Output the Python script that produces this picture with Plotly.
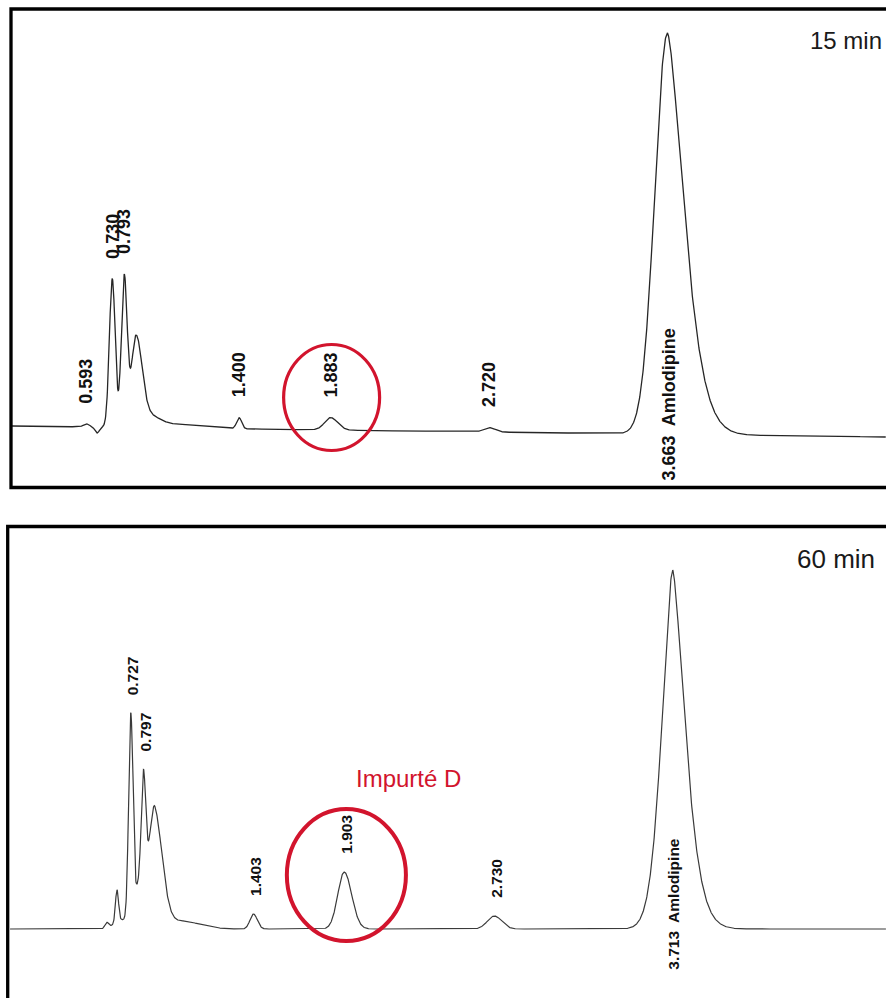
import numpy as np
import plotly.graph_objects as go

W, H = 886, 998

# ---------------- Data ----------------
# Top chromatogram (15 min): peak retention time (min), height (signal units), widths (min), shape exponents
top_rt     = [0.593, 0.650, 0.730, 0.793, 0.855, 0.930, 1.050, 1.400, 1.883, 2.720, 3.663]
top_height = [3.0,   -6.0,  148.0, 149.0, 88.0,  9.0,   4.0,   11.0,  12.5,  4.5,   401.0]
top_wl     = [0.022, 0.016, 0.0217, 0.0217, 0.034, 0.070, 0.200, 0.0187, 0.045, 0.040, 0.095]
top_wr     = [0.022, 0.016, 0.0217, 0.0217, 0.045, 0.070, 0.200, 0.0187, 0.052, 0.045, 0.126]
top_pl     = [2, 2, 2, 2, 2, 2, 2, 2, 2, 2, 2.0]
top_pr     = [2, 2, 2, 2, 2, 2, 2, 2, 2, 2, 1.55]
top_base   = [4.0, -7.0]          # baseline drift (start, end)

top_label_rt   = [0.593, 0.730, 0.793, 1.400, 1.883, 2.720]
top_label_text = ["0.593", "0.730", "0.793", "1.400", "1.883", "2.720"]
top_main_rt, top_main_text = 3.663, "3.663  Amlodipine"

# Bottom chromatogram (60 min)
bot_rt     = [0.596, 0.651, 0.660, 0.727, 0.797, 0.800, 0.861, 1.000, 1.403, 1.903, 2.730, 3.713]
bot_height = [6.0,   31.0,  8.0,   197.0, 100.0, 55.0,  93.0,  8.0,   15.0,  57.0,  13.0,  359.0]
bot_wl     = [0.0156, 0.0117, 0.040, 0.0165, 0.0165, 0.070, 0.035, 0.150, 0.027, 0.050, 0.054, 0.085]
bot_wr     = [0.0156, 0.0117, 0.040, 0.0165, 0.0165, 0.070, 0.0595, 0.150, 0.030, 0.058, 0.058, 0.100]
bot_pl     = [2, 2, 2, 2, 2, 2, 2, 2, 2, 2, 2, 1.7]
bot_pr     = [2, 2, 2, 2, 2, 2, 2, 2, 2, 2, 2, 1.5]
bot_base   = [0.0, 0.0]

bot_label_rt   = [0.727, 0.797, 1.403, 1.903, 2.730]
bot_label_text = ["0.727", "0.797", "1.403", "1.903", "2.730"]
bot_main_rt, bot_main_text = 3.713, "3.713  Amlodipine"

top_title = "15 min"
bot_title = "60 min"
impurity_text = "Impurté D"

# ---------------- Build traces from the peak table ----------------
def chromatogram(t, rt, h, wl, wr, pl, pr, base):
    y = base[0] + (base[1] - base[0]) * (t - t[0]) / (t[-1] - t[0])
    for r, a, l, rr, p1, p2 in zip(rt, h, wl, wr, pl, pr):
        d = t - r
        left = np.exp(-np.abs(d / l) ** p1)
        right = np.exp(-np.abs(d / rr) ** p2)
        y = y + a * np.where(d < 0, left, right)
    return y

top_xrange = [0.1368, 4.817]
bot_xrange = [0.0066, 4.888]
yrange = [-69, 430]

t_top = np.arange(0.200, 4.817, 0.0015)
t_bot = np.arange(0.062, 4.888, 0.0015)
y_top = chromatogram(t_top, top_rt, top_height, top_wl, top_wr, top_pl, top_pr, top_base)
y_bot = chromatogram(t_bot, bot_rt, bot_height, bot_wl, bot_wr, bot_pl, bot_pr, bot_base)

fig = go.Figure()
fig.add_trace(go.Scatter(x=t_top, y=y_top, mode="lines", xaxis="x", yaxis="y",
                         line=dict(color="#262626", width=1.3), hoverinfo="skip", showlegend=False))
fig.add_trace(go.Scatter(x=t_bot, y=y_bot, mode="lines", xaxis="x2", yaxis="y2",
                         line=dict(color="#3a3a3a", width=1.2), hoverinfo="skip", showlegend=False))

lab_font_top = dict(family="Liberation Sans, Arial, sans-serif", size=18, color="#111", weight="bold")
lab_font_bot = dict(family="Liberation Sans, Arial, sans-serif", size=15.5, color="#111", weight="bold")

ann = []
for r, txt in zip(top_label_rt, top_label_text):
    yv = float(np.interp(r, t_top, y_top))
    ann.append(dict(x=r, y=yv, xref="x", yref="y", text=txt, textangle=-90, showarrow=False,
                    xanchor="center", yanchor="bottom", yshift=18, font=lab_font_top))
ann.append(dict(x=top_main_rt, y=-53, xref="x", yref="y", text=top_main_text, textangle=-90,
                showarrow=False, xanchor="center", yanchor="bottom", xshift=1, font=lab_font_top))

for r, txt in zip(bot_label_rt, bot_label_text):
    yv = float(np.interp(r, t_bot, y_bot))
    ann.append(dict(x=r, y=yv, xref="x2", yref="y2", text=txt, textangle=-90, showarrow=False,
                    xanchor="center", yanchor="bottom", yshift=16, xshift=2, font=lab_font_bot))
ann.append(dict(x=bot_main_rt, y=-43, xref="x2", yref="y2", text=bot_main_text, textangle=-90,
                showarrow=False, xanchor="center", yanchor="bottom", font=lab_font_bot))

ann.append(dict(x=884 / W, y=1 - 41 / H, xref="paper", yref="paper", text=top_title, showarrow=False,
                xanchor="right", yanchor="middle",
                font=dict(family="Liberation Sans, Arial, sans-serif", size=24, color="#1a1a1a")))
ann.append(dict(x=877 / W, y=1 - 559 / H, xref="paper", yref="paper", text=bot_title, showarrow=False,
                xanchor="right", yanchor="middle",
                font=dict(family="Liberation Sans, Arial, sans-serif", size=26, color="#1a1a1a")))
ann.append(dict(x=2.255, y=151, xref="x2", yref="y2", text=impurity_text, showarrow=False,
                xanchor="center", yanchor="middle",
                font=dict(family="Liberation Sans, Arial, sans-serif", size=24, color="#d2142d")))

red = "#d2142d"
shapes = [
    # panel frames
    dict(type="rect", xref="paper", yref="paper", x0=11 / W, x1=1.05, y0=1 - 487.5 / H, y1=1 - 9 / H,
         line=dict(color="black", width=3.3), fillcolor="rgba(0,0,0,0)", layer="above"),
    dict(type="rect", xref="paper", yref="paper", x0=7.7 / W, x1=1.05, y0=-0.05, y1=1 - 526.5 / H,
         line=dict(color="black", width=3.3), fillcolor="rgba(0,0,0,0)", layer="above"),
    # red ellipses around impurity peak
    dict(type="circle", xref="x", yref="y", x0=1.883 - 0.248, x1=1.883 + 0.259, y0=-20.5, y1=85.5,
         line=dict(color=red, width=3.2)),
    dict(type="circle", xref="x2", yref="y2", x0=1.903 - 0.316, x1=1.903 + 0.340, y0=-12, y1=120,
         line=dict(color=red, width=4)),
]

axis_off = dict(visible=False, showgrid=False, zeroline=False, fixedrange=True)
fig.update_layout(
    width=W, height=H, autosize=False,
    margin=dict(l=0, r=0, t=0, b=0),
    paper_bgcolor="white", plot_bgcolor="white",
    xaxis=dict(domain=[0, 1], range=top_xrange, anchor="y", **axis_off),
    yaxis=dict(domain=[0.5, 1], range=yrange, anchor="x", **axis_off),
    xaxis2=dict(domain=[0, 1], range=bot_xrange, anchor="y2", **axis_off),
    yaxis2=dict(domain=[0, 0.5], range=yrange, anchor="x2", **axis_off),
    annotations=ann, shapes=shapes, showlegend=False,
)

fig.write_html("out.html", config={"displayModeBar": False})
